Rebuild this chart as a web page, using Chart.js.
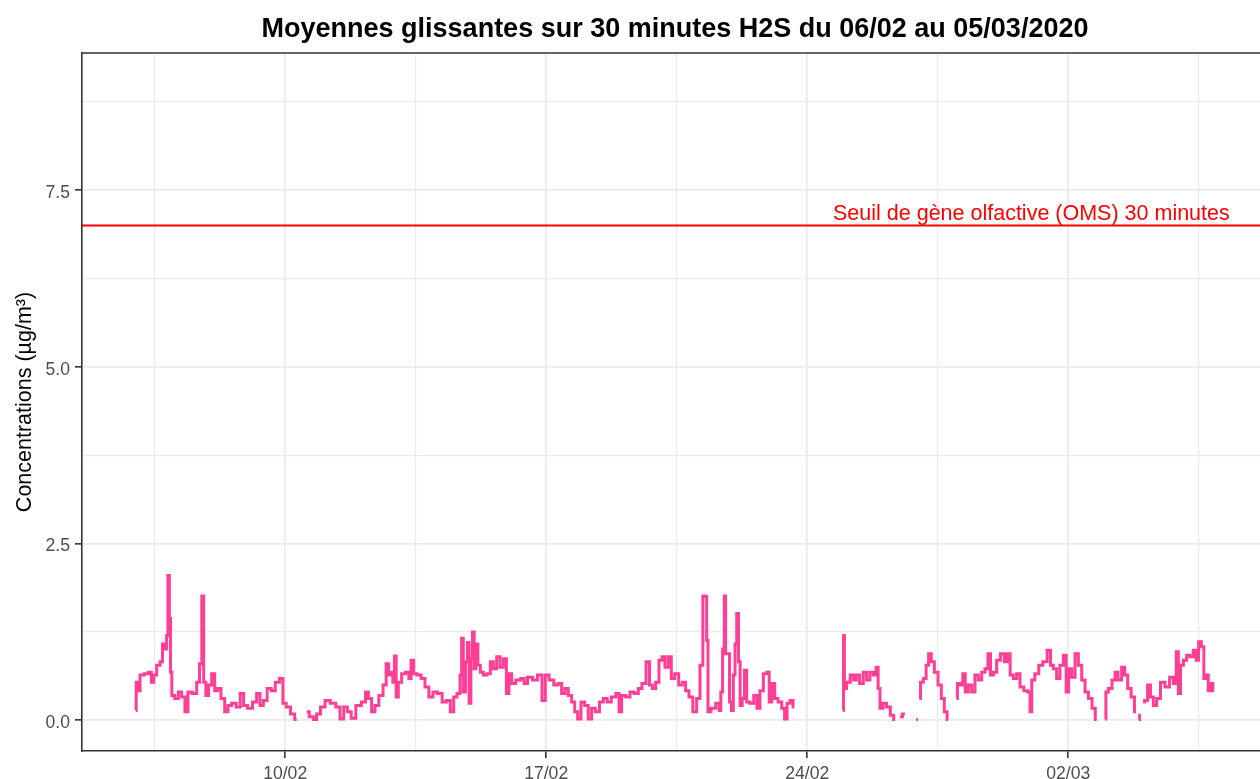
<!DOCTYPE html>
<html>
<head>
<meta charset="utf-8">
<title>H2S 30 minutes</title>
<script src="https://cdn.jsdelivr.net/npm/chart.js@4.4.1/dist/chart.umd.min.js"></script>
<style>
  html, body { margin: 0; padding: 0; background: #ffffff; overflow: hidden; }
</style>
</head>
<body>
<canvas id="h2sChart" width="1290" height="779"></canvas>
<script>
// hours counted from 06/02/2020 00:00, null = no measurement
var hours = [
	0, 0.2, 1.5, 3.7, 6.9, 9.0, 10.7, 12.2, 14.4, 16.5, 17.6, 19.3, 20.1, 21.0, 21.9, 22.5, 23.6, 26.2, 28.3, 30.4,
	32.6, 34.3, 38.0, 40.1, 41.6, 43.1, 44.0, 45.9, 47.6, 49.8, 51.5, 53.6, 55.8, 58.4, 60.0, 63.1, 65.8, 68.4, 70.2, 73.4,
	76.6, 78.7, 80.9, 83.0, 85.8, 88.4, 90.9, 93.8, 95.3, 98.0, 100.9, 103.4, 106, 109.9, 113.1, 115.2, 117.3, 120.2, 123.1, 127.0,
	130.2, 132.4, 135.0, 137.1, 139.9, 143.1, 146.9, 148.5, 150.6, 152.7, 154.9, 157.7, 160.3, 161.7, 163.5, 165.0, 165.6, 167.1, 167.8, 169.9,
	172.0, 174.9, 176.3, 177.8, 179.6, 182.1, 184.9, 187.1, 189.9, 192.4, 195.7, 198.4, 201.0, 203.6, 205.3, 207.9, 209.2, 210.0, 211.3, 212.8,
	213.8, 215.0, 216.1, 217.1, 218.2, 219.3, 220.8, 222.5, 224.6, 227.2, 228.9, 231.1, 233.2, 235.4, 237.5, 239.3, 240.7, 242.8, 246.0, 249.3,
	250.4, 253.6, 256.8, 260.0, 262.6, 264.3, 267.5, 270.3, 272.9, 275.0, 277.2, 279.3, 281.5, 283.2, 285.3, 287.5, 290.0, 292.2, 294.3, 296.9,
	299.7, 301.9, 304.6, 307.2, 310.4, 311.5, 313.6, 316.9, 319.0, 322.2, 324.4, 326.9, 329.7, 331.3, 333.4, 335.5, 337.7, 339.4, 341.5, 343.7,
	345.4, 348.0, 350.6, 352.7, 354.8, 357.0, 359.8, 361.9, 364.1, 365.6, 366.9, 367.7, 368.6, 371.5, 374.8, 375.9, 376.9, 378.2, 379.1, 379.9,
	381.2, 382.8, 383.8, 385.1, 386.0, 387.3, 388.3, 389.4, 390.9, 392.4, 393.7, 396.3, 398.9, 400.5, 402.7, 404.9, 407.0, 408.1, 410.2, 412.0,
	414.5, 416.7, 418.2, 419.9, 422.1, 423.7, 440, 455.2, 455.6, 456.3, 458.4, 461.0, 462.7, 464.5, 467.0, 469.2, 471.3, 473.5, 475.6, 477.1,
	478.2, 479.5, 482.0, 484.2, 486.8, 488.5, 490, 491.7, 494.9, 498, 502.2, 503.3, 503.8, 504.2, 505.7, 507.8, 509.3, 511.0, 512.8, 514.9,
	517.5, 519.2, 521.3, 522.8, 525, 528.2, 529.2, 531.4, 532.9, 534.6, 536.8, 538.9, 541.1, 543.2, 545.4, 547.5, 549.2, 550.8, 552.9, 555.0,
	557.8, 560.0, 561.7, 563.6, 565.8, 567.9, 570.1, 572.8, 575.0, 575.9, 577.2, 579.8, 582.3, 585.1, 587.8, 589.4, 591.5, 593.6, 595.8, 598.0,
	599.4, 601.2, 603.3, 605.5, 607.6, 609.8, 611.9, 614.1, 616.6, 618.3, 621, 623.7, 624.8, 626.9, 629.5, 630.8, 633.3, 635.5, 637.2, 639.4,
	641.6, 643.7, 644.5, 645.2, 646.7, 647.5, 648.3, 650.0, 652.2, 653.7, 655.9, 658.0, 660.8, 663.8, 666.7, 668.8, 670.3, 671.5, 673.1, 675.2,
	677.3, 679.5, 681.6, 683.1, 684.8, 686.6, 688.0, 689.5, 690.8, 692.4, 693.8
]
var conc = [
	0.14, 0.54, 0.42, 0.64, 0.66, 0.68, 0.54, 0.64, 0.78, 0.83, 1.08, 1.01, 1.2, 2.05, 1.44, 0.68, 0.35, 0.31, 0.4, 0.33,
	0.12, 0.4, 0.38, 0.54, 0.8, 1.76, 0.54, 0.35, 0.5, 0.66, 0.42, 0.45, 0.31, 0.12, 0.21, 0.24, 0.19, 0.38, 0.21, 0.17,
	0.26, 0.38, 0.21, 0.28, 0.45, 0.42, 0.54, 0.59, 0.24, 0.19, 0.09, 0.01, null, 0.12, 0.05, 0.01, 0.09, 0.19, 0.28, 0.24,
	0.19, 0.02, 0.19, 0.12, 0.03, 0.21, 0.26, 0.4, 0.31, 0.12, 0.21, 0.35, 0.5, 0.8, 0.64, 0.68, 0.54, 0.91, 0.33, 0.54,
	0.66, 0.68, 0.59, 0.85, 0.66, 0.64, 0.59, 0.47, 0.33, 0.4, 0.38, 0.26, 0.28, 0.12, 0.33, 0.38, 0.64, 1.16, 0.4, 0.83,
	1.1, 0.24, 0.87, 1.25, 0.73, 1.08, 0.78, 0.68, 0.64, 0.66, 0.83, 0.73, 0.9, 0.75, 0.87, 0.38, 0.66, 0.52, 0.57, 0.59,
	0.52, 0.61, 0.57, 0.64, 0.28, 0.64, 0.57, 0.5, 0.52, 0.38, 0.45, 0.35, 0.26, 0.12, 0.02, 0.26, 0.21, 0.02, 0.17, 0.12,
	0.26, 0.31, 0.26, 0.33, 0.38, 0.12, 0.35, 0.33, 0.4, 0.38, 0.45, 0.52, 0.83, 0.5, 0.45, 0.54, 0.85, 0.9, 0.75, 0.9,
	0.59, 0.66, 0.5, 0.54, 0.42, 0.33, 0.12, 0.31, 0.78, 1.76, 1.75, 1.13, 0.12, 0.17, 0.24, 0.14, 0.4, 1.01, 1.76, 0.94,
	0.94, 0.26, 0.14, 0.64, 1.08, 1.51, 0.83, 0.21, 0.31, 0.71, 0.26, 0.24, 0.35, 0.17, 0.42, 0.66, 0.68, 0.26, 0.52, 0.31,
	0.26, 0.17, 0.02, 0.24, 0.28, 0.19, null, 0.14, 1.2, 0.45, 0.54, 0.64, 0.57, 0.64, 0.52, 0.68, 0.57, 0.68, 0.64, 0.75,
	0.45, 0.17, 0.24, 0.19, 0.07, 0.01, null, 0.05, 0.09, null, 0.01, 0.01, null, 0.31, 0.54, 0.59, 0.78, 0.94, 0.83, 0.68,
	0.5, 0.31, 0.12, 0.01, null, 0.31, 0.52, 0.5, 0.66, 0.4, 0.5, 0.4, 0.64, 0.57, 0.68, 0.73, 0.94, 0.64, 0.68, 0.85,
	0.94, 0.83, 0.94, 0.64, 0.59, 0.66, 0.47, 0.42, 0.4, 0.12, 0.57, 0.66, 0.78, 0.83, 0.99, 0.78, 0.73, 0.59, 0.78, 0.92,
	0.4, 0.73, 0.61, 0.94, 0.78, 0.57, 0.4, 0.31, 0.17, 0.01, null, 0.02, 0.4, 0.45, 0.57, 0.68, 0.57, 0.75, 0.64, 0.45,
	0.33, 0.12, null, 0.01, 0.07, null, 0.26, 0.28, 0.5, 0.33, 0.21, 0.31, 0.54, 0.47, 0.61, 0.52, 0.97, 0.38, 0.78, 0.85,
	0.92, 0.9, 0.99, 0.85, 1.11, 1.04, 0.59, 0.64, 0.42, 0.52, 0.42
]

var xTickHours = [96, 264, 432, 600]
var xTickLabels = ['10/02', '17/02', '24/02', '02/03']
var xGridHours = [12, 96, 180, 264, 348, 432, 516, 600, 684]
var yTickValues = [0, 2.5, 5, 7.5]
var yTickLabels = ['0.0', '2.5', '5.0', '7.5']
var yGridValues = [0, 1.25, 2.5, 3.75, 5, 6.25, 7.5, 8.75]

var thresholdValue = 7
var thresholdLabel = 'Seuil de gène olfactive (OMS) 30 minutes'
var thresholdLabelHour = 576.3

var titleText = 'Moyennes glissantes sur 30 minutes H2S du 06/02 au 05/03/2020'
var yTitleText = 'Concentrations (µg/m³)'

var xMin = -34.76, xMax = 728.6
var yMin = -0.434, yMax = 9.44

var fontFamily = '"Liberation Sans", Arial, Helvetica, sans-serif'
var borderGrey = '#333333'

function isMajor(list, value){
	for(var i = 0; i < list.length; i++){
		if(Math.abs(list[i] - value) < 1e-6) return true
	}
	return false
}

var panelExtras = {
	id: 'panelExtras',
	afterDatasetsDraw: function(chart){
		var ctx = chart.ctx
		var area = chart.chartArea
		var xs = chart.scales.x
		var ys = chart.scales.y
		ctx.save()
		ctx.strokeStyle = borderGrey
		ctx.lineWidth = 1.6
		ctx.beginPath()
		ctx.moveTo(area.left, area.top)
		ctx.lineTo(area.right, area.top)
		ctx.lineTo(area.right, area.bottom)
		ctx.stroke()
		ctx.fillStyle = '#FF0000'
		ctx.font = '21.5px ' + fontFamily
		ctx.textAlign = 'center'
		ctx.textBaseline = 'alphabetic'
		ctx.fillText(thresholdLabel, xs.getPixelForValue(thresholdLabelHour), ys.getPixelForValue(thresholdValue) - 5)
		ctx.restore()
	}
}

var concData = hours.map(function(h, i){ return {x: h, y: conc[i]} })

new Chart(document.getElementById('h2sChart'), {
	type: 'line',
	data: {
		datasets: [
			{
				label: 'seuil',
				data: [{x: xMin, y: thresholdValue}, {x: xMax, y: thresholdValue}],
				borderColor: '#FF0000',
				borderWidth: 1.8,
				pointRadius: 0
			},
			{
				label: 'H2S',
				data: concData,
				borderColor: '#FF3E96',
				borderWidth: 3,
				pointRadius: 0,
				stepped: 'middle',
				spanGaps: false
			}
		]
	},
	options: {
		responsive: false,
		animation: false,
		layout: {padding: {left: 0, right: 22, top: 0, bottom: 0}},
		plugins: {
			legend: {display: false},
			tooltip: {enabled: false},
			title: {
				display: true,
				fullSize: false,
				text: titleText,
				color: '#000000',
				font: {family: fontFamily, size: 27, weight: 'bold', lineHeight: 1.2},
				padding: {top: 13, bottom: 7.6}
			}
		},
		scales: {
			x: {
				type: 'linear',
				min: xMin,
				max: xMax,
				afterBuildTicks: function(scale){
					scale.ticks = xGridHours.map(function(v){ return {value: v} })
				},
				afterFit: function(scale){ scale.height = 28 },
				ticks: {
					autoSkip: false,
					maxRotation: 0,
					padding: 6,
					color: '#4D4D4D',
					font: {family: fontFamily, size: 17.6},
					callback: function(value){
						var i = xTickHours.indexOf(value)
						return i >= 0 ? xTickLabels[i] : ''
					}
				},
				grid: {
					color: '#EBEBEB',
					lineWidth: function(c){ return isMajor(xTickHours, c.tick.value) ? 1.7 : 1.2 },
					tickLength: 7,
					tickWidth: 1.6,
					tickColor: function(c){ return isMajor(xTickHours, c.tick.value) ? borderGrey : 'rgba(0,0,0,0)' }
				},
				border: {color: borderGrey, width: 1.6}
			},
			y: {
				type: 'linear',
				min: yMin,
				max: yMax,
				afterBuildTicks: function(scale){
					scale.ticks = yGridValues.map(function(v){ return {value: v} })
				},
				afterFit: function(scale){ scale.width = 82 },
				ticks: {
					padding: 5,
					labelOffset: 3,
					color: '#4D4D4D',
					font: {family: fontFamily, size: 17.6},
					callback: function(value){
						for(var i = 0; i < yTickValues.length; i++){
							if(Math.abs(yTickValues[i] - value) < 1e-6) return yTickLabels[i]
						}
						return ''
					}
				},
				grid: {
					color: '#EBEBEB',
					lineWidth: function(c){ return isMajor(yTickValues, c.tick.value) ? 1.7 : 1.2 },
					tickLength: 7,
					tickWidth: 1.6,
					tickColor: function(c){ return isMajor(yTickValues, c.tick.value) ? borderGrey : 'rgba(0,0,0,0)' }
				},
				border: {color: borderGrey, width: 1.6},
				title: {
					display: true,
					text: yTitleText,
					color: '#000000',
					font: {family: fontFamily, size: 21.5},
					padding: {top: 12.4, bottom: 0}
				}
			}
		}
	},
	plugins: [panelExtras]
})
</script>
</body>
</html>
